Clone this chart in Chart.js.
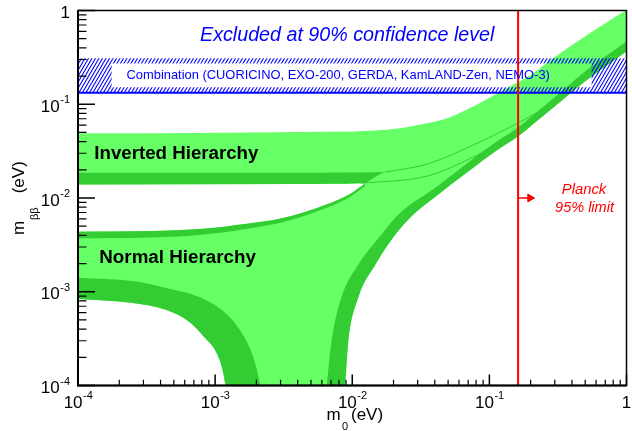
<!DOCTYPE html>
<html>
<head>
<meta charset="utf-8">
<script src="https://cdn.jsdelivr.net/npm/chart.js@4.4.1/dist/chart.umd.min.js"></script>
<style>
  html, body { margin: 0; padding: 0; background: #fff; }
  #wrap { width: 632px; height: 431px; }
</style>
</head>
<body>
<div id="wrap"><canvas id="myChart" width="632" height="431"></canvas></div>
<script>
// ---- values (m0 and m_bb, both in eV) ----

// axis range and tick labels
const X_MIN = 1e-4, X_MAX = 1, Y_MIN = 1e-4, Y_MAX = 1;
const tickVals = [1e-4, 1e-3, 1e-2, 1e-1, 1];
const tickLabels = [["10", "-4"], ["10", "-3"], ["10", "-2"], ["10", "-1"], ["1", ""]];

// inverted hierarchy: upper edge
const ihTopX = [1e-4, 7.7e-4, 4.1e-3, 0.01, 0.0215, 0.0356, 0.05, 0.082, 0.135, 0.2, 0.28, 0.49, 0.72, 1];
const ihTopY = [0.049, 0.0493, 0.0506, 0.0512, 0.0551, 0.063, 0.0715, 0.1, 0.149, 0.205, 0.296, 0.52, 0.75, 1.01];
// inverted hierarchy: inner edge (top of its dark strip) and lower edge
const ihMidX = [1e-4, 4e-3, 0.0173, 0.0356, 0.082, 0.142, 0.242, 0.488, 1];
const ihMidY = [0.0186, 0.0186, 0.0189, 0.0231, 0.0386, 0.0572, 0.089, 0.2156, 0.461];
const ihLowX = [1e-4, 4e-3, 0.0116, 0.0356, 0.082, 0.142, 0.242, 0.488, 1];
const ihLowY = [0.0139, 0.0141, 0.01435, 0.0172, 0.0288, 0.0447, 0.0749, 0.173, 0.37];

// normal hierarchy: upper edge and bottom of the upper dark strip
const nhTopX = [1e-4, 3.33e-4, 7.66e-4, 1.76e-3, 3.06e-3, 5.4e-3, 9.35e-3, 0.01242];
const nhTopY = [0.00437, 0.00445, 0.00467, 0.00535, 0.00607, 0.00773, 0.01076, 0.01428];
const nhTopInnerY = [0.00372, 0.00379, 0.00403, 0.00473, 0.00548, 0.00709, 0.0100, 0.01343];
// normal hierarchy: left branch of the lower edge (inner / outer side of the dark strip)
const nhLeftInnerX = [1e-4, 2.51e-4, 4.42e-4, 7.66e-4, 1.07e-3, 1.374e-3, 1.706e-3, 1.95e-3, 2.14e-3];
const nhLeftInnerY = [1.413e-3, 1.30e-3, 1.096e-3, 8.79e-4, 6.71e-4, 4.75e-4, 2.91e-4, 1.78e-4, 1e-4];
const nhLeftOuterX = [1e-4, 2.51e-4, 4.42e-4, 6.49e-4, 8.32e-4, 1.016e-3, 1.125e-3, 1.197e-3];
const nhLeftOuterY = [8.37e-4, 7.59e-4, 6.38e-4, 4.75e-4, 3.29e-4, 2.28e-4, 1.54e-4, 1e-4];
// normal hierarchy: right branch of the lower edge
const nhRightInnerX = [6.52e-3, 7.05e-3, 8.31e-3, 0.01103, 0.01622, 0.0215, 0.042, 0.0693, 0.1143, 0.1595, 0.277, 0.488, 0.847, 1];
const nhRightInnerY = [1e-4, 2.91e-4, 8.58e-4, 1.93e-3, 4.03e-3, 6.59e-3, 0.01343, 0.0236, 0.0405, 0.0558, 0.1083, 0.2156, 0.388, 0.461];
const nhRightOuterX = [8.85e-3, 9.35e-3, 0.01103, 0.01469, 0.0205, 0.02767, 0.042, 0.0693, 0.1143, 0.1595, 0.277, 0.488, 0.847, 1];
const nhRightOuterY = [1e-4, 2.91e-4, 8.58e-4, 1.93e-3, 4.03e-3, 6.59e-3, 0.01076, 0.0189, 0.0325, 0.0447, 0.0868, 0.1727, 0.311, 0.370];

// excluded band (combination of experiments) and the label box left open in its hatching
const bandY = [0.133, 0.31];
const bandBoxX = [1.76e-4, 0.557];
const bandBoxY = [0.152, 0.272];

// Planck 95% limit and its arrow
const planckX = 0.162;
const arrowX = [0.162, 0.198];
const arrowY = 0.01;

// ---- colours ----
const LIGHT = "#66ff66";
const DARK = "#33cc33";
const BLUE = "#0000ff";
const RED = "#ff0000";
const FONT = "'Liberation Sans', Arial, Helvetica, sans-serif";

function pts(xs, ys) {
  return xs.map((x, i) => ({ x: x, y: ys[i] }));
}
const Y_FLOOR = Y_MIN / 3; // below the frame, only used to close the funnels
const last = a => a[a.length - 1];

const ihTop = pts(ihTopX, ihTopY);
const ihMid = pts(ihMidX, ihMidY);
const ihLow = pts(ihLowX, ihLowY);
const nhTop = pts(nhTopX, nhTopY);
const nhTopIn = pts(nhTopX, nhTopInnerY);
const leftIn = pts(nhLeftInnerX, nhLeftInnerY);
const leftOut = pts(nhLeftOuterX, nhLeftOuterY);
const rightIn = pts(nhRightInnerX, nhRightInnerY);
const rightOut = pts(nhRightOuterX, nhRightOuterY);

// boundaries of the filled bands (all single valued in m0)
const ihCut = 0.036; // the dark IH strip disappears under the NH band here
const nhUpper = [...nhTop, ...ihMid.filter(p => p.x > last(nhTopX))];
const nhLower = [...leftOut, { x: Math.sqrt(last(nhLeftOuterX) * nhRightOuterX[0]), y: Y_FLOOR }, ...rightOut];
const leftOutExt = [...leftOut, { x: last(nhLeftInnerX), y: Y_FLOOR }];
const rightOutExt = [{ x: nhRightInnerX[0], y: Y_FLOOR }, ...rightOut];

// hatched frame: outer rectangle, then the label box the other way round (a hole)
const bandShape = [
  { x: X_MIN, y: bandY[0] }, { x: X_MAX, y: bandY[0] }, { x: X_MAX, y: bandY[1] }, { x: X_MIN, y: bandY[1] },
  { x: X_MIN, y: bandY[0] },
  { x: bandBoxX[0], y: bandBoxY[0] }, { x: bandBoxX[0], y: bandBoxY[1] },
  { x: bandBoxX[1], y: bandBoxY[1] }, { x: bandBoxX[1], y: bandBoxY[0] },
  { x: bandBoxX[0], y: bandBoxY[0] }
];

// steep "////" hatching, one line every 3.5 px
function hatchPattern() {
  const c = document.createElement("canvas");
  c.width = 7; c.height = 6;
  const g = c.getContext("2d");
  g.strokeStyle = BLUE;
  g.lineWidth = 1.1;
  g.beginPath();
  for (let dx = -7; dx <= 7; dx += 3.5) {
    for (let dy = -6; dy <= 6; dy += 6) {
      g.moveTo(dx, 6 + dy);
      g.lineTo(dx + 3.5, dy);
    }
  }
  g.stroke();
  return document.getElementById("myChart").getContext("2d").createPattern(c, "repeat");
}

const datasets = [];
function smooth(data) {
  return { data: data, cubicInterpolationMode: "monotone", pointRadius: 0, borderWidth: 0, borderColor: "rgba(0,0,0,0)", fill: false };
}
// a band filled between an upper and a lower boundary
function band(upper, lower, color) {
  const src = smooth(upper);
  datasets.push(src);
  datasets.push(smooth(lower));
  src.fill = { target: datasets.length - 1, above: color, below: color };
  src.backgroundColor = color;
}
function line(data, color, width, extra) {
  datasets.push(Object.assign({ data: data, fill: false, borderColor: color, borderWidth: width, pointRadius: 0 }, extra || {}));
}

// bottom to top
band(ihTop, ihLow, LIGHT);
band(ihMid.filter(p => p.x <= ihCut), ihLow.filter(p => p.x <= ihCut), DARK);
band(nhUpper, nhLower, LIGHT);
band(nhTop, nhTopIn, DARK);
band(leftIn, leftOutExt, DARK);
band(rightIn, rightOutExt, DARK);
line(ihMid.filter(p => p.x > last(nhTopX)), DARK, 1, { cubicInterpolationMode: "monotone" });
line(ihLow.filter(p => p.x > 0.011), DARK, 1, { cubicInterpolationMode: "monotone" });
line(bandShape, "rgba(0,0,0,0)", 0, { fill: "shape", backgroundColor: hatchPattern() });
line([{ x: X_MIN, y: bandY[0] }, { x: X_MAX, y: bandY[0] }], BLUE, 2);
line([{ x: planckX, y: Y_MIN }, { x: planckX, y: Y_MAX }], RED, 2);
line(arrowX.map(x => ({ x: x, y: arrowY })), RED, 1.5, {
  pointRadius: [0, 4.5], pointStyle: "triangle", rotation: 90,
  pointBackgroundColor: RED, pointBorderColor: RED, pointBorderWidth: 1
});
datasets.forEach((d, i) => { d.order = datasets.length - i; });

// texts, ticks and frame drawn on top
const labels = [
  { text: "Excluded at 90% confidence level", x: 200, y: 40.5, font: "italic 19.7px", color: BLUE, align: "left" },
  { text: "Combination (CUORICINO, EXO-200, GERDA, KamLAND-Zen, NEMO-3)", x: 126.5, y: 79, font: "12.9px", color: BLUE, align: "left" },
  { text: "Inverted Hierarchy", x: 94.3, y: 159.3, font: "bold 18.7px", color: "#000", align: "left" },
  { text: "Normal Hierarchy", x: 99.3, y: 263.3, font: "bold 18.8px", color: "#000", align: "left" },
  { text: "Planck", x: 584, y: 194.3, font: "italic 14.8px", color: RED, align: "center" },
  { text: "95% limit", x: 584.5, y: 211.7, font: "italic 14.5px", color: RED, align: "center" }
];

const overlay = {
  id: "overlay",
  afterDraw(chart) {
    const ctx = chart.ctx;
    const a = chart.chartArea;
    const xs = chart.scales.x, ys = chart.scales.y;
    ctx.save();

    // tick marks, pointing into the frame
    ctx.strokeStyle = "#000";
    for (let d = -4; d <= 0; d++) {
      for (let k = 1; k <= 9; k++) {
        const v = k * Math.pow(10, d);
        if (v > 1.0001) break;
        const major = k === 1;
        const px = xs.getPixelForValue(v);
        const py = ys.getPixelForValue(v);
        ctx.lineWidth = major ? 1.5 : 1.2;
        ctx.beginPath();
        ctx.moveTo(px, a.bottom); ctx.lineTo(px, a.bottom - (major ? 11 : 5.7));
        ctx.moveTo(a.left, py); ctx.lineTo(a.left + (major ? 17 : 8.5), py);
        ctx.stroke();
      }
    }

    // frame
    ctx.lineWidth = 1.5;
    ctx.strokeRect(a.left, a.top, a.right - a.left, a.bottom - a.top);
    ctx.lineWidth = 2;
    ctx.beginPath();
    ctx.moveTo(a.left, a.top); ctx.lineTo(a.left, a.bottom); ctx.lineTo(a.right, a.bottom);
    ctx.stroke();

    // tick labels
    ctx.fillStyle = "#000";
    ctx.textBaseline = "alphabetic";
    ctx.textAlign = "left";
    tickVals.forEach((v, i) => {
      const [b, s] = tickLabels[i];
      ctx.font = "17px " + FONT;
      const wb = ctx.measureText(b).width;
      ctx.font = "11px " + FONT;
      const ws = ctx.measureText(s).width;
      // y axis: right aligned left of the frame
      const py = ys.getPixelForValue(v);
      const right = a.left - 8;
      ctx.font = "17px " + FONT;
      ctx.fillText(b, right - ws - wb - (s ? 0.5 : 0), py + 7.5);
      ctx.font = "11px " + FONT;
      ctx.fillText(s, right - ws, py - 1);
      // x axis: centred under the tick
      const px = xs.getPixelForValue(v);
      const left = px - (wb + ws) / 2;
      ctx.font = "17px " + FONT;
      ctx.fillText(b, left, 407.5);
      ctx.font = "11px " + FONT;
      ctx.fillText(s, left + wb + 0.5, 398.5);
    });

    // axis titles
    ctx.font = "17px " + FONT;
    ctx.fillText("m", 326.5, 420);
    ctx.fillText("(eV)", 351, 420);
    ctx.font = "11px " + FONT;
    ctx.fillText("0", 342, 429.5);

    ctx.save();
    ctx.translate(24, 235);
    ctx.rotate(-Math.PI / 2);
    ctx.font = "17px " + FONT;
    ctx.fillText("m", 0, 0);
    ctx.fillText("(eV)", 41.7, 0);
    ctx.font = "11px " + FONT;
    ctx.fillText("\u03b2\u03b2", 15, 14);
    ctx.restore();

    // annotations
    labels.forEach(l => {
      ctx.font = l.font + " " + FONT;
      ctx.fillStyle = l.color;
      ctx.textAlign = l.align;
      ctx.fillText(l.text, l.x, l.y);
    });
    ctx.restore();
  }
};

const config = {
  type: "line",
  data: { datasets: datasets },
  options: {
    responsive: false,
    animation: false,
    layout: { padding: { left: 78, right: 2, top: 10.5, bottom: 45.5 } },
    scales: {
      x: { type: "logarithmic", min: X_MIN, max: X_MAX, display: false },
      y: { type: "logarithmic", min: Y_MIN, max: Y_MAX, display: false }
    },
    plugins: { legend: { display: false }, tooltip: { enabled: false } }
  },
  plugins: [overlay]
};

const myChart = new Chart(document.getElementById("myChart"), config);
</script>
</body>
</html>
